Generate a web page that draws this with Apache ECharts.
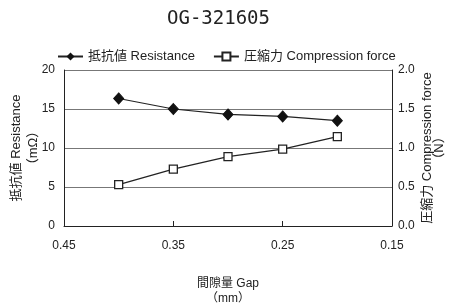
<!DOCTYPE html>
<html>
<head>
<meta charset="utf-8">
<script src="https://cdn.jsdelivr.net/npm/echarts@6/dist/echarts.min.js"></script>
<style>
  html, body { margin: 0; padding: 0; background: #fff; }
  #chart { width: 450px; height: 307px; }
</style>
</head>
<body>
<div id="chart"></div>
<script>
// gap values (mm)
const gaps = [0.40, 0.35, 0.30, 0.25, 0.20];
// resistance (mΩ)
const resistance = [16.35, 15.0, 14.3, 14.05, 13.5];
// compression force (N)
const compression = [0.53, 0.73, 0.89, 0.985, 1.145];

const FONT = "'Liberation Sans', 'Noto Sans CJK JP'";

var chart = echarts.init(document.getElementById("chart"));
var option = {
    animation: false,
    textStyle: { fontFamily: FONT, color: "#222" },
    title: {
        text: "OG-321605",
        left: 162,
        top: 5,
        textStyle: { fontFamily: "DejaVu Sans Mono", fontSize: 19, fontWeight: "normal", color: "#222" }
    },
    legend: {
        top: 45,
        left: 52,
        itemGap: 18,
        itemWidth: 25,
        itemHeight: 10,
        textStyle: { fontFamily: FONT, fontSize: 13, color: "#222" },
        data: ["抵抗値 Resistance", "圧縮力 Compression force"]
    },
    grid: { left: 64, right: 58, top: 70, bottom: 81, outerBoundsMode: "none", containLabel: false },
    xAxis: {
        type: "value",
        inverse: true,
        min: 0.15,
        max: 0.45,
        interval: 0.1,
        name: "間隙量 Gap\n（mm）",
        nameLocation: "middle",
        nameGap: 50,
        nameMoveOverlap: false,
        nameTextStyle: { fontFamily: FONT, fontSize: 12, color: "#222", lineHeight: 15 },
        axisLine: { lineStyle: { color: "#222", width: 1 } },
        axisTick: { show: true, inside: true, length: 5, lineStyle: { color: "#222" } },
        axisLabel: { color: "#222", fontSize: 12, margin: 14, formatter: v => v.toFixed(2) },
        splitLine: { show: false }
    },
    yAxis: [{
        type: "value",
        min: 0,
        max: 20,
        interval: 5,
        name: "抵抗値 Resistance\n（mΩ）",
        nameLocation: "middle",
        nameRotate: 90,
        nameGap: 22,
        nameMoveOverlap: false,
        nameTextStyle: { fontFamily: FONT, fontSize: 13, color: "#222", lineHeight: 17 },
        axisLine: { show: true, lineStyle: { color: "#222" } },
        axisTick: { show: false },
        axisLabel: { color: "#222", fontSize: 12, margin: 9 },
        splitLine: { show: true, lineStyle: { color: "#777", width: 1 } }
    }, {
        type: "value",
        min: 0,
        max: 2.0,
        interval: 0.5,
        name: "圧縮力 Compression force\n（N）",
        nameLocation: "middle",
        nameRotate: 90,
        nameGap: 29,
        nameMoveOverlap: false,
        nameTextStyle: { fontFamily: FONT, fontSize: 13, color: "#222", lineHeight: 12 },
        axisLine: { show: true, lineStyle: { color: "#222" } },
        axisTick: { show: false },
        axisLabel: { color: "#222", fontSize: 12, margin: 6, formatter: v => v.toFixed(1) },
        splitLine: { show: false }
    }],
    series: [{
        name: "抵抗値 Resistance",
        type: "line",
        yAxisIndex: 0,
        data: gaps.map((g, i) => [g, resistance[i]]),
        symbol: "diamond",
        symbolSize: [10, 11],
        lineStyle: { color: "#222", width: 1.2 },
        itemStyle: { color: "#111", borderColor: "#111" }
    }, {
        name: "圧縮力 Compression force",
        type: "line",
        yAxisIndex: 1,
        data: gaps.map((g, i) => [g, compression[i]]),
        symbol: "rect",
        symbolSize: 8,
        lineStyle: { color: "#222", width: 1.2 },
        itemStyle: { color: "#fff", borderColor: "#222", borderWidth: 1.3 }
    }]
};
chart.setOption(option);
</script>
</body>
</html>
